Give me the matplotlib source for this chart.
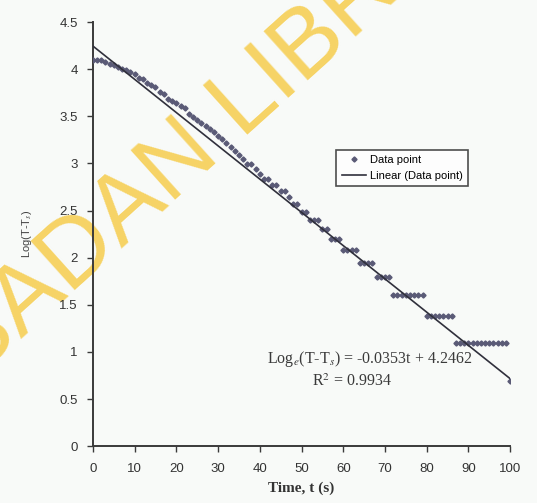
import numpy as np
import matplotlib.pyplot as plt

time_s = list(range(0, 101))
temp_diff = [60, 60, 60, 59, 58, 57, 56, 55, 54, 53,
             52, 50, 49, 47, 46, 45, 43, 42, 40, 39,
             38, 37, 36, 34, 33, 32, 31, 30, 29, 28,
             27, 26, 25, 24, 23, 22, 21, 20, 20, 19,
             18, 17, 17, 16, 16, 15, 15, 14, 13, 13,
             12, 12, 11, 11, 11, 10, 10, 9, 9, 9,
             8, 8, 8, 8, 7, 7, 7, 7, 6, 6,
             6, 6, 5, 5, 5, 5, 5, 5, 5, 5,
             4, 4, 4, 4, 4, 4, 4, 3, 3, 3,
             3, 3, 3, 3, 3, 3, 3, 3, 3, 3,
             2]
slope = -0.0353
intercept = 4.2462
r2 = 0.9934

x_ticks = [0, 10, 20, 30, 40, 50, 60, 70, 80, 90, 100]
y_ticks = [0, 0.5, 1, 1.5, 2, 2.5, 3, 3.5, 4, 4.5]

t = np.array(time_s)
log_diff = np.log(np.array(temp_diff))
fit = intercept + slope * t

plt.rcParams['mathtext.fontset'] = 'stix'
bg = '#f8faf8'
fig = plt.figure(figsize=(5.37, 5.03), dpi=100, facecolor=bg)
ax = fig.add_axes([0.173, 0.113, 0.777, 0.843])
ax.set_facecolor('none')

ax.plot(t, log_diff, linestyle='none', marker='D', markersize=2.6,
        color='#5a5a76', label='Data point', zorder=3)
ax.plot(t, fit, color='#30303c', linewidth=1.2, label='Linear (Data point)', zorder=4)

ax.set_xlim(0, 100)
ax.set_ylim(0, 4.5)
ax.set_xticks(x_ticks)
ax.set_yticks(y_ticks)
ax.set_yticklabels([f'{v:g}' for v in y_ticks])
for s in ['top', 'right']:
    ax.spines[s].set_visible(False)
for s in ['left', 'bottom']:
    ax.spines[s].set_color('#3a3a3a')
    ax.spines[s].set_linewidth(1.4)
ax.tick_params(direction='out', length=4, width=1, colors='#3a3a3a',
               labelsize=9.5, labelcolor='#333333')
ax.tick_params(axis='x', pad=8)
ax.tick_params(axis='y', pad=7)
for lab in ax.get_xticklabels() + ax.get_yticklabels():
    lab.set_family('Liberation Sans')

ax.set_xlabel('Time, t (s)', family='Liberation Serif', fontsize=11,
              fontweight='bold', color='#333333', labelpad=5)
ax.set_ylabel('Log(T-T$_s$)', family='Liberation Sans', fontsize=8,
              color='#444444', labelpad=18)

# trend line equation
ax.text(0.664, 0.206, r'Log$_e$(T-T$_s$) = -0.0353t + 4.2462', transform=ax.transAxes,
        ha='center', va='center', family='Liberation Serif', fontsize=11.5, color='#3a3a3a')
ax.text(0.62, 0.152, r'R$^2$ = 0.9934', transform=ax.transAxes,
        ha='center', va='center', family='Liberation Serif', fontsize=11.5, color='#3a3a3a')

leg = ax.legend(loc='upper left', bbox_to_anchor=(0.57, 0.712),
                frameon=True, fancybox=False, edgecolor='#222222',
                prop={'family': 'Liberation Sans', 'size': 8}, handlelength=2.2,
                borderpad=0.5, labelspacing=0.5, handletextpad=0.3)
leg.get_frame().set_linewidth(1.2)
leg.get_frame().set_facecolor('white')

# watermark of the scanned page
fig.text(-0.051, 0.242, 'BADAN LIBRARY', rotation=42, rotation_mode='anchor',
         ha='left', va='baseline', fontsize=70, color='#f6d365',
         family='Liberation Sans', zorder=-1)

fig.savefig('out.png', dpi=100, facecolor=bg)
